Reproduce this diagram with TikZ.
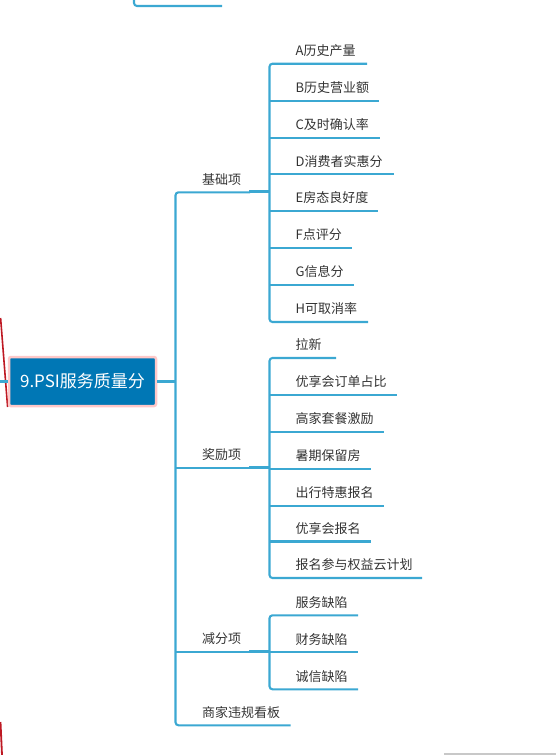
\documentclass[tikz,border=0pt]{standalone}
\usepackage{fontspec}
\setmainfont{Noto Sans CJK SC}
\definecolor{ln}{RGB}{59,168,210}
\definecolor{txt}{RGB}{51,51,51}
\definecolor{ctr}{RGB}{0,119,181}
\definecolor{pinkb}{RGB}{255,200,200}
\definecolor{rd}{RGB}{190,25,35}
\definecolor{gr}{RGB}{200,200,200}
\tikzset{
  conn/.style={draw=ln, line width=2.1pt, rounded corners=3pt},
  joint/.style={draw=ln, line width=2.6pt},
  lbl/.style={anchor=west, inner sep=0pt, text=txt, font=\fontsize{13}{15}\selectfont},
  central/.style={fill=ctr, draw=pinkb, line width=2.5pt, rounded corners=2pt,
     minimum width=147pt, minimum height=49pt, inner sep=0pt, text=white,
     font=\fontsize{17}{20}\selectfont}
}
\begin{document}
\begin{tikzpicture}[x=1pt,y=-1pt]
\useasboundingbox (0,0) rectangle (556,755);
% fragments at the edges
\draw[draw=rd, line width=1.6pt] (0.6,318) -- (7.6,407);
\draw[draw=rd, line width=1.8pt] (0.5,722) -- (2,755);
\draw[draw=gr, line width=2pt] (444,753.8) -- (556,753.8);
\coordinate (topA) at (134,0);
\coordinate (topB) at (222,6);
\draw[conn] (topA) -- (134,6) -- (topB);
% central node
\node[central] (c) at (82.5,381.5) {9.PSI服务质量分};
\coordinate (inL) at (0,381.5);
\draw[conn] (inL) -- (c.west);
% main trunk
\coordinate (mt) at (175.5,381.5);
\draw[conn] (c.east) -- (mt);
\coordinate (b1) at (250,192.3);
\coordinate (b2) at (250,467.7);
\coordinate (b3) at (250,651.7);
\coordinate (b4) at (290.7,725.3);
\draw[conn] (b1) -- (175.5,192.3) -- (175.5,725.3) -- (b4);
\draw[conn] (175.5,467.7) -- (b2);
\draw[conn] (175.5,651.7) -- (b3);
\node[lbl] (n1) at (202,179.3) {基础项};
\node[lbl] (n2) at (202,454.7) {奖励项};
\node[lbl] (n3) at (202,638.7) {减分项};
\node[lbl] (n4) at (202,712.3) {商家违规看板};
% joints
\coordinate (s1) at (269.5,191.7);
\coordinate (s2) at (269.5,467.2);
\coordinate (s3) at (269.5,651.2);
\draw[joint] (249,191.7) -- (s1);
\draw[joint] (249,467.2) -- (s2);
\draw[joint] (249,651.2) -- (s3);
% group 1
\node[lbl] (a1) at (295.5,50.7) {A历史产量};
\node[lbl] (a2) at (295.5,87.7) {B历史营业额};
\node[lbl] (a3) at (295.5,124.7) {C及时确认率};
\node[lbl] (a4) at (295.5,161.2) {D消费者实惠分};
\node[lbl] (a5) at (295.5,198) {E房态良好度};
\node[lbl] (a6) at (295.5,235) {F点评分};
\node[lbl] (a7) at (295.5,272) {G信息分};
\node[lbl] (a8) at (295.5,309) {H可取消率};
\coordinate (e1) at (367,63.7);
\coordinate (e8) at (368,322);
\draw[conn] (e1) -- (269.5,63.7) -- (269.5,322) -- (e8);
\draw[conn] (269.5,100.7) -- (379,100.7);
\draw[conn] (269.5,137.7) -- (380,137.7);
\draw[conn] (269.5,174.2) -- (394,174.2);
\draw[conn] (269.5,211) -- (378,211);
\draw[conn] (269.5,248) -- (352,248);
\draw[conn] (269.5,285) -- (354,285);
% group 2
\node[lbl] (r1) at (295.5,345) {拉新};
\node[lbl] (r2) at (295.5,381.7) {优享会订单占比};
\node[lbl] (r3) at (295.5,418.7) {高家套餐激励};
\node[lbl] (r4) at (295.5,455.7) {暑期保留房};
\node[lbl] (r5) at (295.5,492.7) {出行特惠报名};
\node[lbl] (r6) at (295.5,528.5) {优享会报名};
\node[lbl] (r7) at (295.5,565) {报名参与权益云计划};
\coordinate (f1) at (336,358);
\coordinate (f7) at (422,578);
\draw[conn] (f1) -- (269.5,358) -- (269.5,578) -- (f7);
\draw[conn] (269.5,394.7) -- (397,394.7);
\draw[conn] (269.5,431.7) -- (384,431.7);
\draw[conn] (269.5,468.7) -- (371,468.7);
\draw[conn] (269.5,505.7) -- (384,505.7);
\draw[conn] (269.5,541.5) -- (371,541.5);
% group 3
\node[lbl] (d1) at (295.5,602.3) {服务缺陷};
\node[lbl] (d2) at (295.5,639.3) {财务缺陷};
\node[lbl] (d3) at (295.5,676.3) {诚信缺陷};
\coordinate (g1) at (358,615.3);
\coordinate (g3) at (358,689.3);
\draw[conn] (g1) -- (269.5,615.3) -- (269.5,689.3) -- (g3);
\draw[conn] (269.5,652.3) -- (358,652.3);
\end{tikzpicture}
\end{document}
